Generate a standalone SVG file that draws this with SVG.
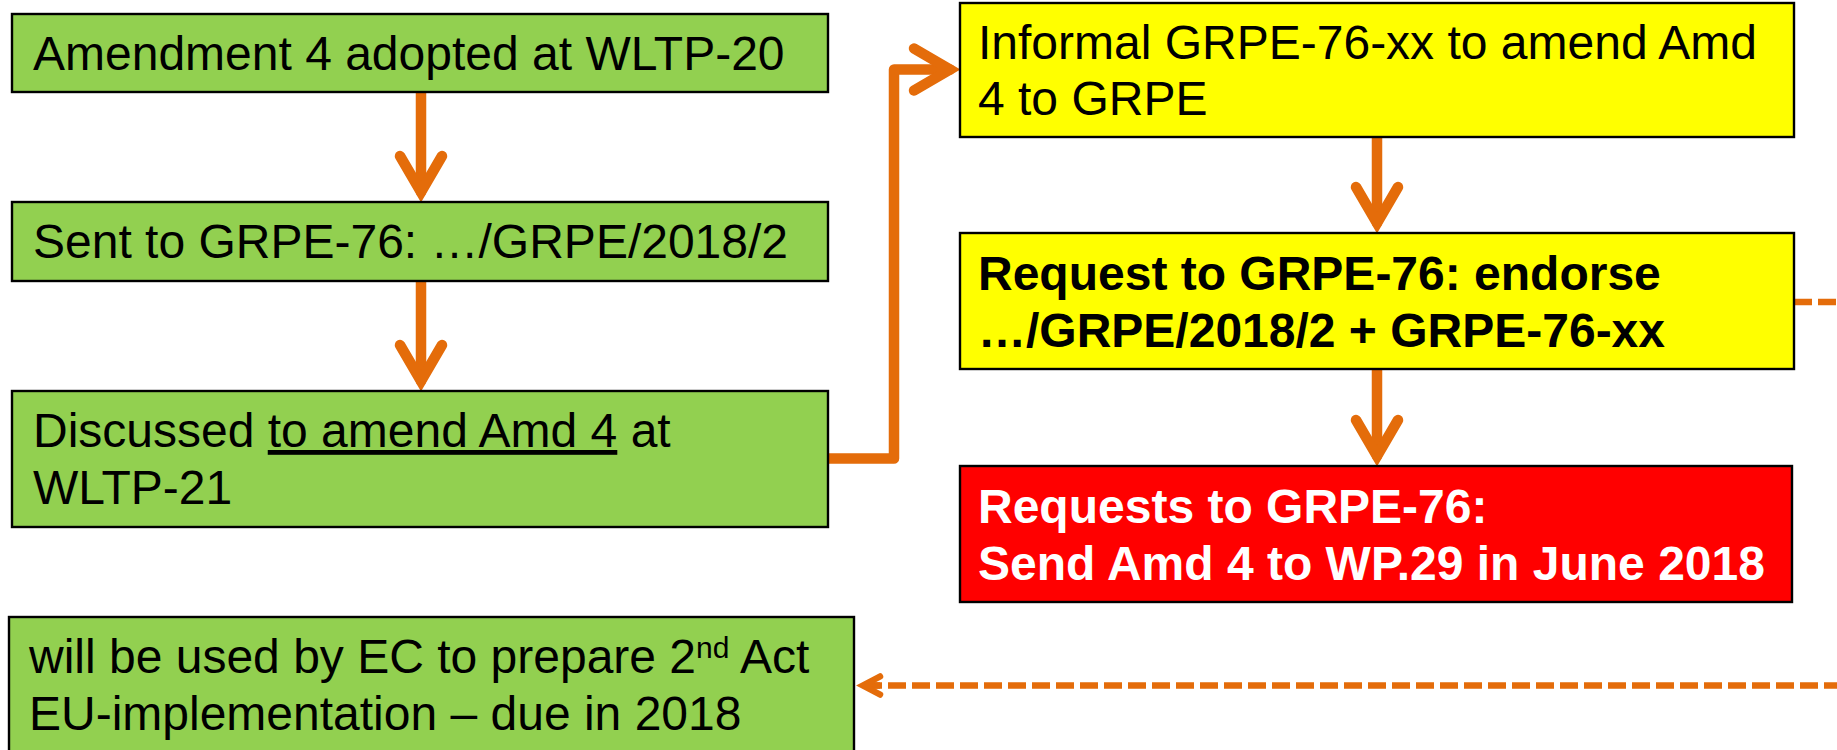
<svg xmlns="http://www.w3.org/2000/svg" width="1837" height="750" viewBox="0 0 1837 750">
<style>
.box{stroke:#000;stroke-width:2.4}
.g{fill:#92D050}
.y{fill:#FFFF00}
.r{fill:#FF0000}
.t{font-family:"Liberation Sans",Arial,sans-serif;font-size:48px;fill:#000}
.b{font-weight:bold}
.w{fill:#FFF}
.c{fill:none;stroke:#E46C0A;stroke-width:10.5;stroke-linecap:round;stroke-linejoin:round}
.d{fill:none;stroke:#E46C0A;stroke-width:6.5;stroke-dasharray:18 6}
</style>
<defs>
<marker id="ah" markerUnits="userSpaceOnUse" orient="auto" overflow="visible" markerWidth="1" markerHeight="1" refX="0" refY="0">
<path d="M -36,-21 L 0,0 L -36,21" fill="none" stroke="#E46C0A" stroke-width="10.5" stroke-linecap="round" stroke-linejoin="miter" stroke-miterlimit="10"/>
</marker>
<marker id="ahd" markerUnits="userSpaceOnUse" orient="auto" overflow="visible" markerWidth="1" markerHeight="1" refX="0" refY="0">
<path d="M -17,-9 L 0,0 L -17,9" fill="none" stroke="#E46C0A" stroke-width="6.5" stroke-linecap="round" stroke-linejoin="miter" stroke-miterlimit="10"/>
</marker>
</defs>
<rect width="1837" height="750" fill="#FFFFFF"/>
<g id="connectors">
<path class="c" d="M 421,92 V 192" marker-end="url(#ah)"/>
<path class="c" d="M 421,281 V 381" marker-end="url(#ah)"/>
<path class="c" d="M 828,458.5 H 894 V 69.5 H 950" marker-end="url(#ah)"/>
<path class="c" d="M 1377,137 V 223" marker-end="url(#ah)"/>
<path class="c" d="M 1377,369 V 456" marker-end="url(#ah)"/>
<path class="d" d="M 1794,302 H 1850"/>
<path class="d" d="M 1842,685.5 H 870"/>
<path d="M 880,685.5 H 863" fill="none" stroke="#E46C0A" stroke-width="6.5" marker-end="url(#ahd)"/>
</g>
<g id="n1">
<rect class="box g" x="12" y="14" width="816" height="78"/>
<text class="t" x="33" y="70">Amendment 4 adopted at WLTP-20</text>
</g>
<g id="n2">
<rect class="box g" x="12" y="202" width="816" height="79"/>
<text class="t" x="33" y="258">Sent to GRPE-76: …/GRPE/2018/2</text>
</g>
<g id="n3">
<rect class="box g" x="12" y="391" width="816" height="136"/>
<text class="t" x="33" y="447">Discussed <tspan text-decoration="underline">to amend Amd 4</tspan> at</text>
<text class="t" x="33" y="504">WLTP-21</text>
</g>
<g id="n4">
<rect class="box g" x="9" y="617" width="845" height="150"/>
<text class="t" x="29" y="673">will be used by EC to prepare 2<tspan font-size="30" dy="-15">nd</tspan><tspan dy="15"> Act</tspan></text>
<text class="t" x="29" y="730">EU-implementation – due in 2018</text>
</g>
<g id="y1">
<rect class="box y" x="960" y="3" width="834" height="134"/>
<text class="t" x="978" y="59">Informal GRPE-76-xx to amend Amd</text>
<text class="t" x="978" y="115">4 to GRPE</text>
</g>
<g id="y2">
<rect class="box y" x="960" y="233" width="834" height="136"/>
<text class="t b" x="978" y="290">Request to GRPE-76: endorse</text>
<text class="t b" x="978" y="347">…/GRPE/2018/2 + GRPE-76-xx</text>
</g>
<g id="r1">
<rect class="box r" x="960" y="466" width="832" height="136"/>
<text class="t b w" x="978" y="523">Requests to GRPE-76:</text>
<text class="t b w" x="978" y="580">Send Amd 4 to WP.29 in June 2018</text>
</g>
</svg>
